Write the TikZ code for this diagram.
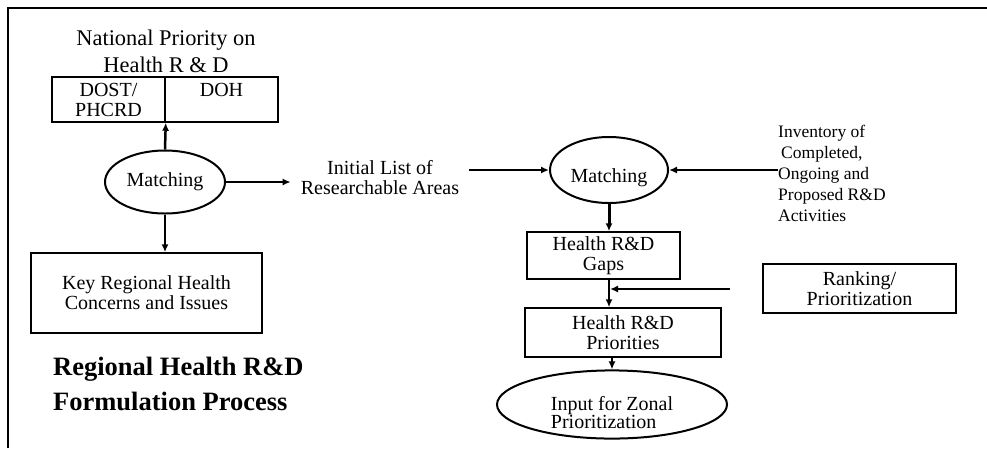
\documentclass[tikz,border=0pt]{standalone}
\usepackage{fontspec}
\setmainfont{Liberation Serif}
\usetikzlibrary{shapes.geometric, positioning, arrows.meta}

\tikzset{
  box/.style={draw, line width=1.5pt, align=center, inner sep=0pt},
  blob/.style={draw, ellipse, line width=2pt, inner sep=0pt, align=left},
  plain/.style={align=center, inner sep=0pt},
}

\begin{document}
\begin{tikzpicture}[x=1pt, y=-1pt, >={Latex[length=8pt,width=7pt]},
  font=\fontsize{20}{20}\selectfont]
\useasboundingbox (0,0) rectangle (987,448);
\draw[line width=2.5pt] (8,448) -- (8,8) -- (987,8);

% left side
\node[plain, font=\fontsize{22.4}{27}\selectfont, anchor=south] (natl) at (166,73)
    {National Priority on\\Health R \& D};
\node[box, minimum width=113pt, minimum height=45pt] (dost) at (108.5,99.5) {DOST/\\PHCRD};
\node[box, minimum width=113pt, minimum height=45pt, right=-1.5pt of dost] (doh) {DOH\\\phantom{P}};
\node[blob, minimum width=120pt, minimum height=63pt] (match1) at (165,182) {Matching};
\node[box, minimum width=231pt, minimum height=80pt] (key) at (146.5,293)
    {Key Regional Health\\Concerns and Issues};
\node[plain, anchor=north west, align=left, font=\fontsize{26.5}{35}\selectfont\bfseries]
    (title) at (53,357) {Regional Health R\&D\\Formulation Process};

% middle and right side
\node[plain, inner xsep=10pt] (initial) at (380,178) {Initial List of\\Researchable Areas};
\node[blob, minimum width=118pt, minimum height=66pt] (match2) at (609,170) {\rule{0pt}{30pt}Matching};
\node[plain, anchor=north west, align=left, font=\fontsize{17.5}{21}\selectfont] (invent) at (778,125)
    {Inventory of\\\hspace{3pt}Completed,\\Ongoing and\\Proposed R\&D\\Activities};
\node[box, minimum width=153pt, minimum height=47pt] (gaps) at (603.5,255.5) {Health R\&D\\Gaps};
\node[box, minimum width=196pt, minimum height=49pt] (prio) at (623,332.5) {Health R\&D\\Priorities};
\node[box, minimum width=193pt, minimum height=49pt] (rank) at (859.5,288.5) {Ranking/\\Prioritization};
\node[blob, minimum width=230pt, minimum height=61pt] (zonal) at (612,404.5)
    {\rule{0pt}{30pt}Input for Zonal\\[-2pt]Prioritization};
\coordinate (rankin) at (730,289);

\draw[line width=2.5pt]
    (match1.north) edge[->] (dost.south east)
    (match1.south) edge[->] (match1.south |- key.north)
    (match1.east) edge[->] (match1.east -| initial.west)
    (initial.east |- match2.west) edge[->] (match2.west)
    (invent.west |- match2.east) edge[->] (match2.east)
    (match2.south) edge[->, line width=3pt] (match2.south |- gaps.north)
    (match2.south |- gaps.south) edge[->] (match2.south |- prio.north)
    (rankin) edge[->, shorten >=1pt] (rankin -| match2.south)
    (zonal.north |- prio.south) edge[->] (zonal.north);
\end{tikzpicture}
\end{document}
